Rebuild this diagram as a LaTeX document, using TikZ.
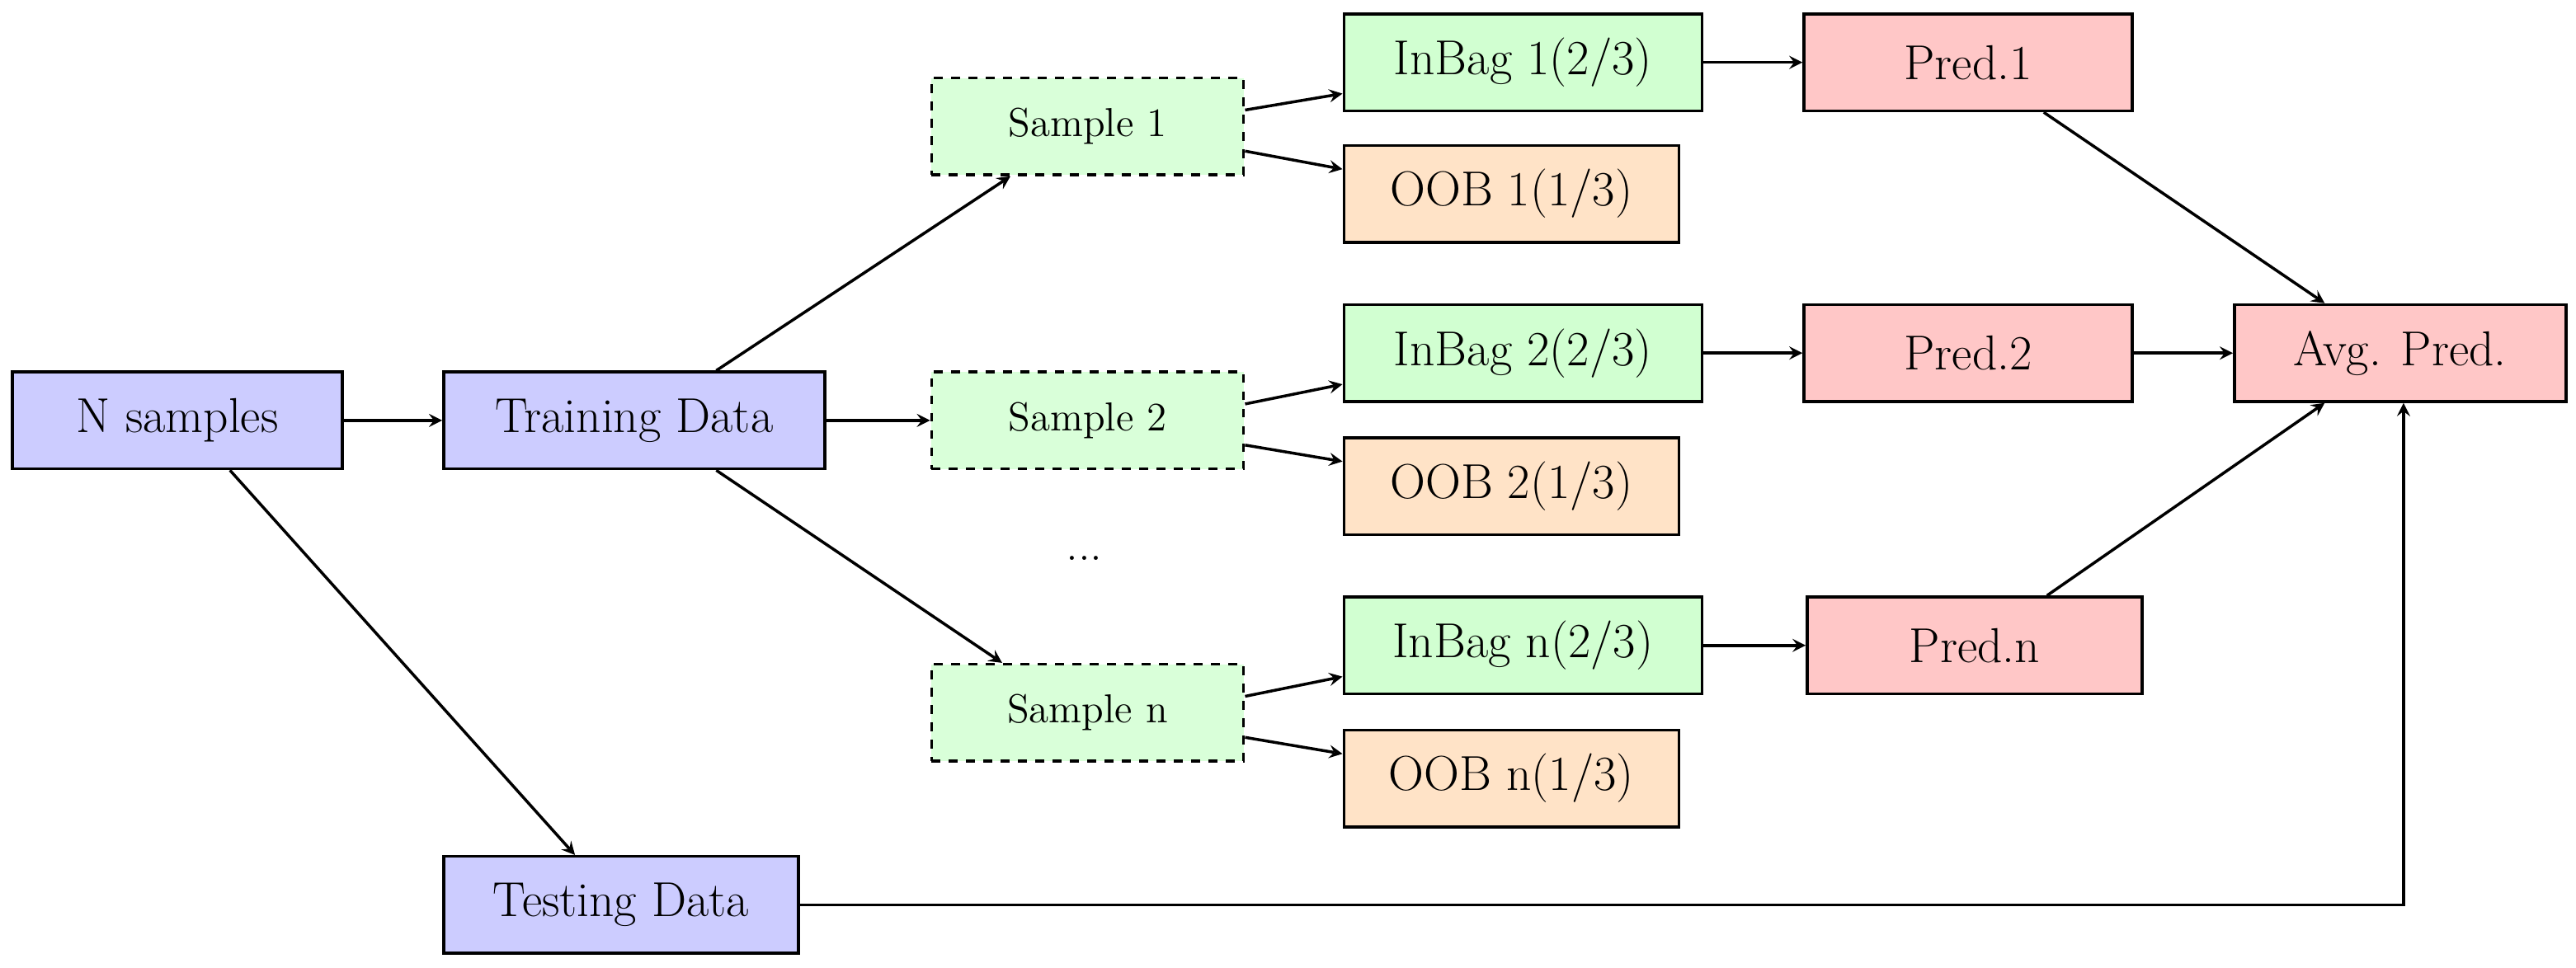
\documentclass[tikz,border=0pt]{standalone}
\usepackage{mathpazo}
\usetikzlibrary{calc}
\begin{document}
\begin{tikzpicture}[x=0.02cm,y=-0.02cm,
 box/.style={draw,line width=1pt,inner sep=0pt,minimum height=1.18cm,font=\fontsize{17}{20}\selectfont},
 bl/.style={box,fill=blue!20},
 gr/.style={box,fill=green!18},
 og/.style={box,fill=orange!22},
 rd/.style={box,fill=red!22},
 sm/.style={box,dashed,fill=green!15,minimum width=3.8cm,font=\fontsize{14}{17}\selectfont},
 ar/.style={->,>=stealth,line width=1pt}]
\useasboundingbox (0,0) rectangle (1568,589);
\node[bl,minimum width=4.02cm] (N) at (108,256) {N samples};
\node[bl,minimum width=4.64cm] (T) at (386,256) {Training Data};
\node[bl,minimum width=4.32cm] (E) at (378,551) {Testing Data};
\node[sm] (s1) at (662,77) {Sample 1};
\node[sm] (s2) at (662,256) {Sample 2};
\node[sm] (sn) at (662,434) {Sample n};
\node[font=\fontsize{17}{20}\selectfont] (dots) at (660,340) {...};
\node[gr,minimum width=4.36cm] (i1) at (927,38) {InBag 1(2/3)};
\node[og,minimum width=4.08cm] (o1) at (920,118) {OOB 1(1/3)};
\node[gr,minimum width=4.36cm] (i2) at (927,215) {InBag 2(2/3)};
\node[og,minimum width=4.08cm] (o2) at (920,296) {OOB 2(1/3)};
\node[gr,minimum width=4.36cm] (in) at (927,393) {InBag n(2/3)};
\node[og,minimum width=4.08cm] (on) at (920,474) {OOB n(1/3)};
\node[rd,minimum width=4cm] (p1) at (1198,38) {Pred.1};
\node[rd,minimum width=4cm] (p2) at (1198,215) {Pred.2};
\node[rd,minimum width=4.08cm] (pn) at (1202,393) {Pred.n};
\node[rd,minimum width=4.04cm] (avg) at (1461,215) {Avg. Pred.};
\draw[ar] (N) -- (T);
\draw[ar] (T) -- (s2);
\draw[ar] ($(T.north)+(50,0)$) -- ($(s1.south)+(-47,0)$);
\draw[ar] ($(T.south)+(50,0)$) -- ($(sn.north)+(-52,0)$);
\draw[ar] ($(N.south)+(32,0)$) -- ($(E.north)+(-28,0)$);
\foreach \s/\i/\o in {s1/i1/o1,s2/i2/o2,sn/in/on}{
 \draw[ar] ($(\s.east)+(0,-10)$) -- ($(\i.west)+(0,19)$);
 \draw[ar] ($(\s.east)+(0,15)$) -- ($(\o.west)+(0,-15)$);}
\draw[ar] (i1) -- (p1);
\draw[ar] (i2) -- (p2);
\draw[ar] (in) -- (pn);
\draw[ar] (p2) -- (avg);
\draw[ar] ($(p1.south)+(46,0)$) -- ($(avg.north)+(-46,0)$);
\draw[ar] ($(pn.north)+(44,0)$) -- ($(avg.south)+(-46,0)$);
\draw[ar] (E.east) -| ($(avg.south)+(2,0)$);
\end{tikzpicture}
\end{document}
